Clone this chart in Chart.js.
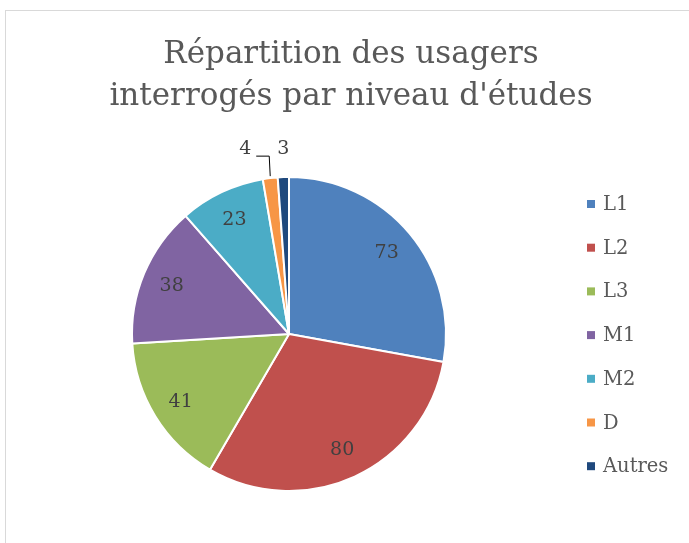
<!DOCTYPE html>
<html>
<head>
<meta charset="utf-8">
<script src="https://cdn.jsdelivr.net/npm/chart.js@4"></script>
<style>
  html, body { margin: 0; padding: 0; background: #fff; }
  #wrap { position: relative; width: 689px; height: 543px; overflow: hidden; }
  #frame { position: absolute; left: 5px; top: 10px; width: 700px; height: 600px; border: 1.5px solid #d9d9d9; box-sizing: border-box; }
  canvas { position: absolute; left: 0; top: 0; }
</style>
</head>
<body>
<div id="wrap">
  <div id="frame"></div>
  <canvas id="myChart" width="689" height="543"></canvas>
</div>
<script>
const titleLines = ['Répartition des usagers', "interrogés par niveau d'études"];
const labels = ['L1', 'L2', 'L3', 'M1', 'M2', 'D', 'Autres'];
const values = [73, 80, 41, 38, 23, 4, 3];
const colors = ['#4F81BD', '#C0504D', '#9BBB59', '#8064A2', '#4BACC6', '#F79646', '#1F497D'];

const serif = '"DejaVu Serif", "Liberation Serif", serif';

// title, legend and value labels drawn by hand to mimic the Excel look
const decor = {
    id: 'decor',
    afterDraw(chart) {
        const c = chart.ctx;
        c.save();
        c.textAlign = 'center';
        c.textBaseline = 'middle';
        c.fillStyle = '#595959';
        c.font = '31px ' + serif;
        c.fillText(titleLines[0], 351, 55);
        c.fillText(titleLines[1], 351, 97);

        // legend
        c.textAlign = 'left';
        c.font = '19.5px ' + serif;
        labels.forEach((l, i) => {
            const y = 204 + i * 43.7;
            c.fillStyle = colors[i];
            c.fillRect(587, y - 4, 8, 8);
            c.fillStyle = '#595959';
            c.fillText(l, 603, y + 1);
        });

        // value labels
        const meta = chart.getDatasetMeta(0);
        c.font = '19px ' + serif;
        c.fillStyle = '#404040';
        c.textAlign = 'center';
        meta.data.forEach((arc, i) => {
            const p = arc.getProps(['x', 'y', 'startAngle', 'endAngle', 'outerRadius']);
            const mid = (p.startAngle + p.endAngle) / 2;
            if (values[i] >= 10) {
                const r = p.outerRadius * 0.81;
                c.fillText(values[i], p.x + r * Math.cos(mid), p.y + r * Math.sin(mid) + 1);
            } else {
                const ex = p.x + p.outerRadius * Math.cos(mid);
                const ey = p.y + p.outerRadius * Math.sin(mid);
                if (i === labels.length - 1) {
                    c.fillText(values[i], ex, ey - 28);
                } else {
                    // pushed left with a leader line
                    c.fillText(values[i], ex - 25, ey - 29);
                    c.strokeStyle = '#000';
                    c.lineWidth = 1;
                    c.beginPath();
                    c.moveTo(ex - 14, ey - 22);
                    c.lineTo(ex - 1, ey - 22);
                    c.lineTo(ex, ey - 2);
                    c.stroke();
                }
            }
        });
        c.restore();
    }
};

const ctx = document.getElementById('myChart').getContext('2d');

const myChart = new Chart(ctx, {
    type: 'pie',
    data: {
        labels: labels,
        datasets: [{
            data: values,
            backgroundColor: colors,
            borderColor: '#ffffff',
            borderWidth: 2
        }]
    },
    options: {
        responsive: false,
        animation: false,
        layout: {
            padding: { left: 131, right: 242, top: 176, bottom: 51 }
        },
        plugins: {
            legend: { display: false },
            tooltip: { enabled: false }
        }
    },
    plugins: [decor]
});
</script>
</body>
</html>
